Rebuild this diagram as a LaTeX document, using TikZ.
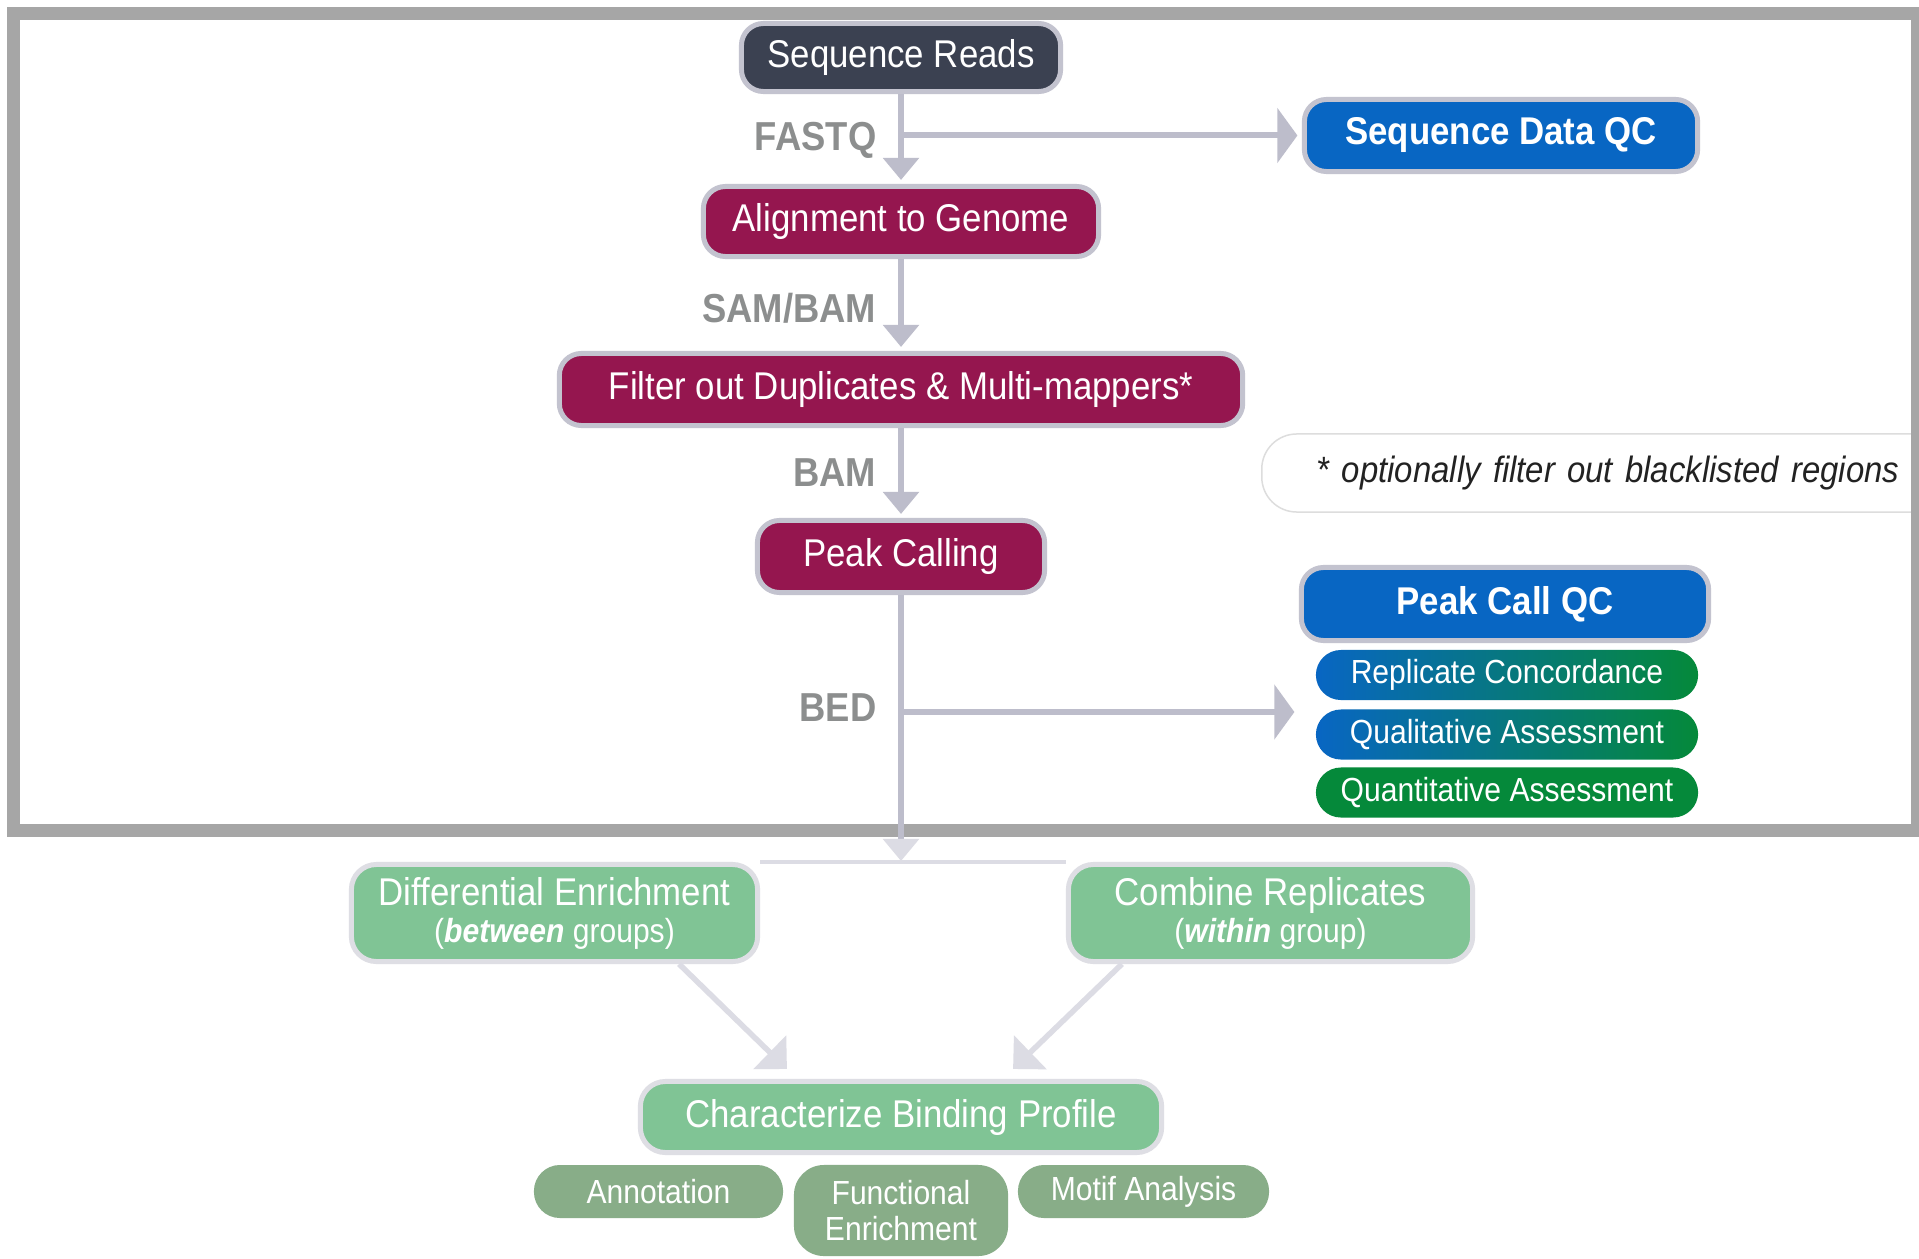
\documentclass[tikz,border=0pt]{standalone}
\usepackage{fontspec}
\newfontfamily\lbsans[FakeStretch=0.9]{Liberation Sans}
\usetikzlibrary{arrows.meta,calc}
\definecolor{framegray}{HTML}{A6A6A6}
\definecolor{arrowc}{HTML}{BDBDCB}
\definecolor{arrowl}{HTML}{DCDCE4}
\definecolor{bordc}{HTML}{C3C3CF}
\definecolor{bordl}{HTML}{DEDEE4}
\definecolor{darkc}{HTML}{3B4151}
\definecolor{magc}{HTML}{95164F}
\definecolor{bluec}{HTML}{0866C3}
\definecolor{greenc}{HTML}{05893A}
\definecolor{lgreen}{HTML}{80C495}
\definecolor{sage}{HTML}{88AD88}
\definecolor{labc}{HTML}{8C8E8E}
\definecolor{noteb}{HTML}{DDDDDD}
\definecolor{notet}{HTML}{222222}
\newcommand\mainf{\lbsans\fontsize{11}{13}\selectfont}
\newcommand\mainb{\lbsans\bfseries\fontsize{11}{13}\selectfont}
\newcommand\subf{\lbsans\fontsize{9.5}{10}\selectfont}
\tikzset{
  box/.style={rounded corners=0.22cm, line width=0.05cm, draw=bordc, text=white, font=\mainf, inner sep=0pt},
  pill/.style={rounded corners=0.25cm, text=white, font=\subf, inner sep=0pt, minimum width=3.82cm, minimum height=0.50cm},
  lbox/.style={rounded corners=0.25cm, line width=0.05cm, draw=bordl, fill=lgreen, text=white, font=\mainf, inner sep=0pt, align=center},
  sbox/.style={rounded corners=0.26cm, fill=sage, text=white, font=\subf, inner sep=0pt, align=center},
  lab/.style={font=\lbsans\bfseries\fontsize{11.5}{13}\selectfont, text=labc, anchor=east, inner sep=0pt},
  garrow/.style={line width=0.06cm, draw=arrowc, -{Triangle[length=0.22cm,width=0.35cm]}},
  harrow/.style={line width=0.06cm, draw=arrowc, -{Triangle[length=0.2cm,width=0.54cm]}},
  larrow/.style={line width=0.055cm, draw=arrowl, -{Triangle[length=0.24cm,width=0.46cm]}},
  lline/.style={line width=0.045cm, draw=arrowl},
  notebox/.style={draw=noteb, line width=0.015cm, fill=white, rounded corners=0.35cm, anchor=west, minimum width=7cm, minimum height=0.78cm, text width=6.45cm, align=left, inner xsep=0.55cm, font=\lbsans\itshape\fontsize{10.4}{12}\selectfont, text=notet}
}
\begin{document}
\begin{tikzpicture}[x=0.01cm,y=-0.01cm]
\useasboundingbox (0,0) rectangle (1919,1258);
\fill[white] (0,0) rectangle (1919,1258);
% note
\node[notebox] (note) at (1261,473) {* optionally filter out blacklisted regions};
% frame
\draw[framegray, line width=0.13cm] (13.5,13.5) rectangle (1917.5,830.5);
% main column
\node[box, fill=darkc, minimum width=3.19cm, minimum height=0.68cm] (sr) at (901,57.5) {Sequence Reads};
\node[box, fill=magc, minimum width=3.95cm, minimum height=0.70cm] (ag) at (901,221.5) {Alignment to Genome};
\node[box, fill=magc, minimum width=6.83cm, minimum height=0.72cm] (fd) at (901,389.5) {Filter out Duplicates \& Multi-mappers*};
\node[box, fill=magc, minimum width=2.87cm, minimum height=0.72cm] (pc) at (901,556.5) {Peak Calling};
% QC
\node[box, fill=bluec, font=\mainb, minimum width=3.93cm, minimum height=0.72cm] (sdqc) at (1501,135.5) {Sequence Data QC};
\node[box, fill=bluec, font=\mainb, minimum width=4.07cm, minimum height=0.73cm] (pcqc) at (1505,604) {Peak Call QC};
\node[pill, left color=bluec, right color=greenc] (rc) at (1507,675) {Replicate Concordance};
\node[pill, left color=bluec, right color=greenc] (qa) at (1507,734.5) {Qualitative Assessment};
\node[pill, fill=greenc] (qn) at (1507,792.5) {Quantitative Assessment};
% labels
\node[lab] (lfq) at (877,140) {FASTQ};
\node[lab] (lsb) at (877,308) {SAM/BAM};
\node[lab] (lbm) at (877,473) {BAM};
\node[lab] (lbd) at (877,708) {BED};
% lower part
\node[lbox, minimum width=4.06cm, minimum height=0.97cm] (de) at (554.5,913) {Differential Enrichment\\[-2.5pt]{\subf(\textbf{\textit{between}} groups)}};
\node[lbox, minimum width=4.04cm, minimum height=0.97cm] (cr) at (1270.5,913) {Combine Replicates\\[-2.5pt]{\subf(\textbf{\textit{within}} group)}};
\node[lbox, minimum width=5.21cm, minimum height=0.71cm] (cbp) at (901,1117) {Characterize Binding Profile};
\node[sbox, minimum width=2.49cm, minimum height=0.53cm] (an) at (658.5,1191.5) {Annotation};
\node[sbox, rounded corners=0.3cm, minimum width=2.14cm, minimum height=0.91cm] (fe) at (901,1210.5) {Functional\\Enrichment};
\node[sbox, minimum width=2.51cm, minimum height=0.53cm] (ma) at (1143.5,1191.5) {Motif Analysis};
% connectors
\draw[garrow, shorten >=0.04cm] (sr.south) -- (ag.north);
\draw[garrow, shorten >=0.04cm] (ag.south) -- (fd.north);
\draw[garrow, shorten >=0.04cm] (fd.south) -- (pc.north);
\coordinate (fq) at (sr.south |- sdqc.west);
\draw[harrow, shorten >=0.045cm] (fq) -- (sdqc.west);
\coordinate (bd) at (901,712);
\draw[harrow, shorten >=0.045cm] (bd) -- (bd -| pcqc.west);
\coordinate (sp) at (901,861);
\draw[line width=0.06cm, draw=arrowc, -{Triangle[length=0.22cm,width=0.35cm,color=arrowl]}] (pc.south) -- (sp);
\draw[lline] (de.north east) -- (cr.north west);
\draw[larrow] ([xshift=1.245cm]de.south) -- ([xshift=-1.14cm,yshift=0.1cm]cbp.north);
\draw[larrow] ([xshift=-1.485cm]cr.south) -- ([xshift=1.12cm,yshift=0.1cm]cbp.north);
\end{tikzpicture}
\end{document}
